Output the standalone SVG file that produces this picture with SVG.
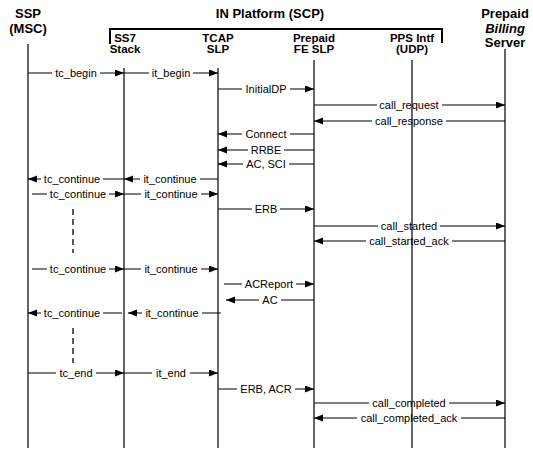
<svg xmlns="http://www.w3.org/2000/svg" width="533" height="451" viewBox="0 0 533 451">
<style>
.h{font-family:"Liberation Sans",Arial,sans-serif;font-weight:bold;font-size:13px;text-anchor:middle;fill:#000}
.s{font-family:"Liberation Sans",Arial,sans-serif;font-weight:bold;font-size:11.5px;text-anchor:middle;fill:#000}
.m{font-family:"Liberation Sans",Arial,sans-serif;font-size:11px;text-anchor:middle;fill:#000}
.life{stroke:#000;stroke-width:1.2;fill:none}
.msg{stroke:#000;stroke-width:1;fill:none}
.arr{stroke:#000;stroke-width:1;fill:none;marker-end:url(#ah)}
.dash{stroke:#000;stroke-width:1.3;stroke-dasharray:6,4;fill:none}
.br{stroke:#000;stroke-width:2;fill:none}
</style>
<defs>
<marker id="ah" markerUnits="userSpaceOnUse" markerWidth="10" markerHeight="8" refX="9" refY="3.5" orient="auto">
<path d="M0,0 L9,3.5 L0,7 z" fill="#000"/>
</marker>
</defs>
<rect width="533" height="451" fill="#fff"/>

<g id="platform">
<text class="h" x="270" y="18">IN Platform (SCP)</text>
<path class="br" d="M110,44 V29 H442 V43"/>
</g>

<g id="ssp">
<text class="h" x="28" y="18">SSP</text>
<text class="h" x="28" y="33">(MSC)</text>
<line class="life" x1="28" y1="44" x2="28" y2="448"/>
</g>
<g id="ss7">
<text class="s" x="125" y="42">SS7</text>
<text class="s" x="125" y="53">Stack</text>
<line class="life" x1="124" y1="68" x2="124" y2="448"/>
</g>
<g id="tcap">
<text class="s" x="218" y="42">TCAP</text>
<text class="s" x="218" y="53">SLP</text>
<line class="life" x1="218" y1="68" x2="218" y2="448"/>
</g>
<g id="fe">
<text class="s" x="314" y="42">Prepaid</text>
<text class="s" x="314" y="53">FE SLP</text>
<line class="life" x1="314" y1="60" x2="314" y2="448"/>
</g>
<g id="pps">
<text class="s" x="412" y="42">PPS Intf</text>
<text class="s" x="412" y="53">(UDP)</text>
<line class="life" x1="412" y1="60" x2="412" y2="448"/>
</g>
<g id="billing">
<text class="h" x="505" y="18">Prepaid</text>
<text class="h" x="505" y="33" font-style="italic">Billing</text>
<text class="h" x="505" y="47">Server</text>
<line class="life" x1="505" y1="49" x2="505" y2="448"/>
</g>

<g id="connectors">
<!-- tc_begin -->
<line class="msg" x1="28" y1="73" x2="52" y2="73"/><line class="arr" x1="100" y1="73" x2="124" y2="73"/><text class="m" x="76" y="77">tc_begin</text>
<!-- it_begin -->
<line class="msg" x1="124" y1="73" x2="149" y2="73"/><line class="arr" x1="193" y1="73" x2="218" y2="73"/><text class="m" x="171" y="77">it_begin</text>
<!-- InitialDP -->
<line class="msg" x1="218" y1="89" x2="242" y2="89"/><line class="arr" x1="290" y1="89" x2="314" y2="89"/><text class="m" x="266" y="93">InitialDP</text>
<!-- call_request -->
<line class="msg" x1="314" y1="105" x2="377" y2="105"/><line class="arr" x1="442" y1="105" x2="505" y2="105"/><text class="m" x="409" y="109">call_request</text>
<!-- call_response -->
<line class="msg" x1="505" y1="121" x2="446" y2="121"/><line class="arr" x1="372" y1="121" x2="314" y2="121"/><text class="m" x="409" y="125">call_response</text>
<!-- Connect -->
<line class="msg" x1="314" y1="134" x2="290" y2="134"/><line class="arr" x1="242" y1="134" x2="218" y2="134"/><text class="m" x="266" y="138">Connect</text>
<!-- RRBE -->
<line class="msg" x1="314" y1="150" x2="284" y2="150"/><line class="arr" x1="248" y1="150" x2="218" y2="150"/><text class="m" x="266" y="154">RRBE</text>
<!-- AC, SCI -->
<line class="msg" x1="314" y1="164" x2="289" y2="164"/><line class="arr" x1="243" y1="164" x2="218" y2="164"/><text class="m" x="266" y="168">AC, SCI</text>
<!-- tc_continue left -->
<line class="msg" x1="124" y1="179" x2="103" y2="179"/><line class="arr" x1="41" y1="179" x2="28" y2="179"/><text class="m" x="72" y="183">tc_continue</text>
<!-- it_continue left -->
<line class="msg" x1="218" y1="179" x2="200" y2="179"/><line class="arr" x1="140" y1="179" x2="124" y2="179"/><text class="m" x="170" y="183">it_continue</text>
<!-- tc_continue right -->
<line class="msg" x1="32" y1="194" x2="47" y2="194"/><line class="arr" x1="109" y1="194" x2="124" y2="194"/><text class="m" x="78" y="198">tc_continue</text>
<!-- it_continue right -->
<line class="msg" x1="124" y1="194" x2="141" y2="194"/><line class="arr" x1="201" y1="194" x2="218" y2="194"/><text class="m" x="171" y="198">it_continue</text>
<!-- ERB -->
<line class="msg" x1="218" y1="209" x2="252" y2="209"/><line class="arr" x1="280" y1="209" x2="314" y2="209"/><text class="m" x="266" y="213">ERB</text>
<!-- call_started -->
<line class="msg" x1="314" y1="226" x2="378" y2="226"/><line class="arr" x1="440" y1="226" x2="505" y2="226"/><text class="m" x="409" y="230">call_started</text>
<!-- call_started_ack -->
<line class="msg" x1="505" y1="241" x2="452" y2="241"/><line class="arr" x1="366" y1="241" x2="314" y2="241"/><text class="m" x="409" y="245">call_started_ack</text>
<!-- dashed 1 -->
<line class="dash" x1="73" y1="209" x2="73" y2="253"/>
<!-- tc_continue right 2 -->
<line class="msg" x1="32" y1="269" x2="47" y2="269"/><line class="arr" x1="109" y1="269" x2="124" y2="269"/><text class="m" x="78" y="273">tc_continue</text>
<!-- it_continue right 2 -->
<line class="msg" x1="124" y1="269" x2="141" y2="269"/><line class="arr" x1="201" y1="269" x2="218" y2="269"/><text class="m" x="171" y="273">it_continue</text>
<!-- ACReport -->
<line class="msg" x1="224" y1="284" x2="242" y2="284"/><line class="arr" x1="296" y1="284" x2="314" y2="284"/><text class="m" x="269" y="288">ACReport</text>
<!-- AC -->
<line class="msg" x1="314" y1="300" x2="281" y2="300"/><line class="arr" x1="259" y1="300" x2="226" y2="300"/><text class="m" x="270" y="304">AC</text>
<!-- tc_continue left 2 -->
<line class="msg" x1="122" y1="313" x2="103" y2="313"/><line class="arr" x1="41" y1="313" x2="28" y2="313"/><text class="m" x="72" y="317">tc_continue</text>
<!-- it_continue left 2 -->
<line class="msg" x1="221" y1="313" x2="202" y2="313"/><line class="arr" x1="142" y1="313" x2="128" y2="313"/><text class="m" x="172" y="317">it_continue</text>
<!-- dashed 2 -->
<line class="dash" x1="73" y1="328" x2="73" y2="363"/>
<!-- tc_end -->
<line class="msg" x1="28" y1="373" x2="56" y2="373"/><line class="arr" x1="96" y1="373" x2="124" y2="373"/><text class="m" x="76" y="377">tc_end</text>
<!-- it_end -->
<line class="msg" x1="124" y1="373" x2="152" y2="373"/><line class="arr" x1="190" y1="373" x2="218" y2="373"/><text class="m" x="171" y="377">it_end</text>
<!-- ERB, ACR -->
<line class="msg" x1="218" y1="389" x2="237" y2="389"/><line class="arr" x1="295" y1="389" x2="314" y2="389"/><text class="m" x="266" y="393">ERB, ACR</text>
<!-- call_completed -->
<line class="msg" x1="314" y1="403" x2="369" y2="403"/><line class="arr" x1="449" y1="403" x2="505" y2="403"/><text class="m" x="409" y="407">call_completed</text>
<!-- call_completed_ack -->
<line class="msg" x1="505" y1="418" x2="461" y2="418"/><line class="arr" x1="357" y1="418" x2="314" y2="418"/><text class="m" x="409" y="422">call_completed_ack</text>
</g>
</svg>
